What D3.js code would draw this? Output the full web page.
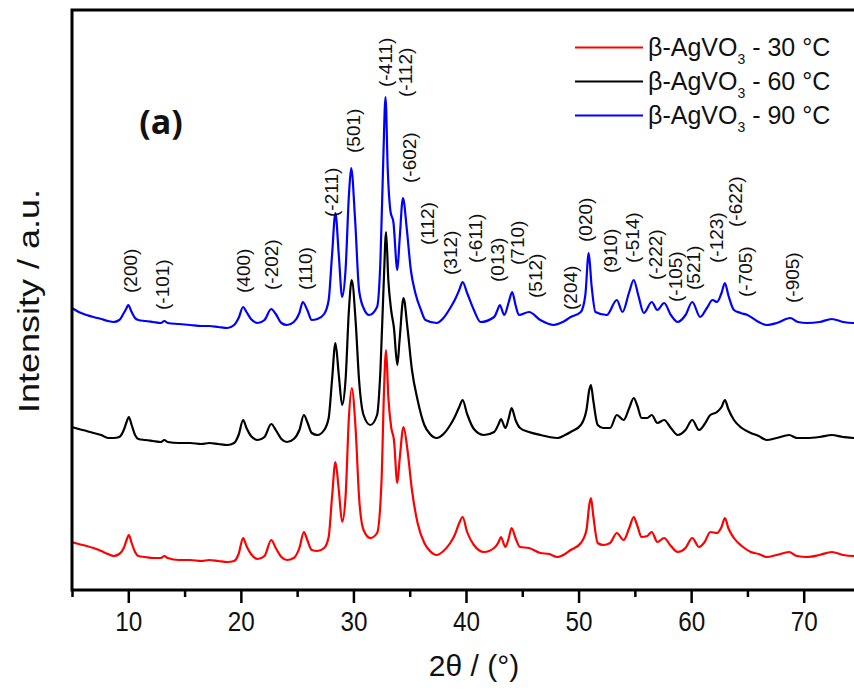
<!DOCTYPE html>
<html>
<head>
<meta charset="utf-8">
<script src="https://cdn.jsdelivr.net/npm/d3@7"></script>
<style>
  html, body { margin: 0; padding: 0; background: #fff; }
  svg { display: block; font-family: "Liberation Sans", Arial, sans-serif; }
</style>
</head>
<body>
<div id="chart"></div>
<script>
"use strict";

// XRD patterns, [2theta, intensity] (stacked as drawn).
var pattern30 = [[5.0,48],[5.6,46],[6.3,44],[6.9,42],[7.6,39],[8.2,36],[8.7,34],[9.2,36],[9.6,42],[9.85,50],[10.05,55],[10.3,47],[10.6,38],[10.9,34],[11.5,33],[12.2,32],[12.9,32],[13.2,34],[13.5,32],[14.5,30],[15.5,30],[16.5,29],[17.2,30],[18.0,29],[18.8,28],[19.4,29],[19.8,36],[20.2,52],[20.5,44],[20.9,36],[21.5,31],[22.1,34],[22.7,50],[23.1,42],[23.6,33],[24.1,30],[24.7,32],[25.2,42],[25.6,58],[25.9,50],[26.3,40],[26.8,39],[27.4,42],[27.8,53],[28.1,93],[28.4,128],[28.7,100],[29.0,68],[29.3,93],[29.6,173],[29.85,202],[30.2,160],[30.5,93],[30.9,60],[31.5,52],[32.1,57],[32.5,110],[32.7,193],[32.9,240],[33.1,193],[33.35,163],[33.6,150],[33.9,107],[34.1,130],[34.45,163],[34.8,140],[35.2,100],[35.7,67],[36.3,47],[36.8,39],[37.4,35],[38.0,39],[38.6,47],[39.0,55],[39.4,67],[39.7,73],[40.1,58],[40.7,45],[41.6,38],[42.5,42],[42.9,48],[43.1,53],[43.5,43],[43.8,52],[44.05,62],[44.4,52],[44.8,43],[45.6,42],[46.6,37],[47.4,36],[48.1,33],[48.8,36],[49.3,40],[50.2,47],[50.7,60],[50.95,85],[51.1,92],[51.3,75],[51.7,47],[52.2,45],[52.8,47],[53.4,57],[54.0,50],[54.5,62],[54.9,73],[55.2,65],[55.6,53],[56.1,54],[56.5,58],[57.0,48],[57.6,52],[58.2,44],[58.8,38],[59.5,42],[60.1,52],[60.7,43],[61.2,48],[61.7,58],[62.3,57],[62.7,63],[63.0,72],[63.3,62],[63.8,52],[64.5,44],[65.3,38],[66.0,36],[66.7,33],[67.6,35],[68.7,38],[69.4,34],[70.3,33],[71.4,35],[72.5,38],[73.5,35],[74.4,34],[75.0,34]];

var pattern60 = [[5.0,163],[5.6,161],[6.3,159],[6.9,157],[7.6,155],[8.2,152],[8.7,152],[9.2,153],[9.6,160],[9.85,168],[10.05,173],[10.3,165],[10.6,155],[10.9,151],[11.5,150],[12.2,149],[12.9,148],[13.2,150],[13.5,148],[14.5,147],[15.5,147],[16.5,146],[17.2,147],[18.0,146],[18.8,145],[19.4,147],[19.8,155],[20.2,170],[20.5,162],[20.9,154],[21.5,150],[22.1,153],[22.7,166],[23.1,160],[23.6,151],[24.1,148],[24.7,151],[25.2,160],[25.6,175],[25.9,168],[26.3,157],[26.8,155],[27.4,160],[27.8,172],[28.1,210],[28.4,247],[28.7,215],[29.0,185],[29.3,210],[29.6,280],[29.85,310],[30.2,268],[30.5,210],[30.9,175],[31.5,165],[32.1,175],[32.4,220],[32.7,310],[32.9,358],[33.1,310],[33.35,280],[33.6,262],[33.9,225],[34.1,250],[34.45,292],[34.8,262],[35.2,220],[35.7,190],[36.3,165],[36.8,156],[37.4,152],[38.0,156],[38.6,165],[39.0,173],[39.4,183],[39.7,190],[40.1,176],[40.7,161],[41.6,155],[42.5,158],[42.9,166],[43.1,171],[43.5,162],[43.8,172],[44.05,182],[44.4,170],[44.8,162],[45.6,158],[46.6,155],[47.4,153],[48.1,152],[48.8,155],[49.3,158],[50.2,165],[50.7,180],[50.95,200],[51.1,205],[51.3,190],[51.7,165],[52.2,162],[52.8,162],[53.4,175],[54.0,170],[54.5,182],[54.9,192],[55.2,185],[55.6,172],[56.1,172],[56.5,175],[57.0,167],[57.6,170],[58.2,162],[58.8,155],[59.5,160],[60.1,170],[60.7,160],[61.2,166],[61.7,175],[62.3,178],[62.7,183],[63.0,190],[63.3,181],[63.8,170],[64.5,162],[65.3,157],[66.0,154],[66.7,150],[67.6,152],[68.7,155],[69.4,152],[70.3,152],[71.4,153],[72.5,155],[73.5,153],[74.4,152],[75.0,152]];

var pattern90 = [[5.0,282],[5.6,278],[6.3,275],[6.9,273],[7.6,271],[8.2,269],[8.7,268],[9.2,270],[9.6,277],[9.85,282],[10.0,285],[10.3,278],[10.6,272],[10.9,270],[11.5,269],[12.2,268],[12.9,267],[13.2,269],[13.5,267],[14.5,266],[15.5,265],[16.5,264],[17.2,264],[18.0,263],[18.8,262],[19.4,265],[19.8,272],[20.2,283],[20.5,278],[20.9,271],[21.5,267],[22.1,270],[22.7,281],[23.1,276],[23.6,267],[24.1,265],[24.7,268],[25.2,277],[25.5,288],[25.9,280],[26.3,270],[26.8,271],[27.4,276],[27.8,290],[28.1,335],[28.4,377],[28.7,335],[29.0,293],[29.3,320],[29.6,395],[29.8,422],[30.15,370],[30.5,300],[30.9,282],[31.4,275],[32.1,283],[32.4,330],[32.65,430],[32.85,493],[33.05,420],[33.3,378],[33.55,368],[33.9,320],[34.1,350],[34.4,392],[34.75,360],[35.1,320],[35.5,297],[36.0,280],[36.4,270],[37.4,267],[38.0,272],[38.6,282],[39.0,290],[39.4,300],[39.7,308],[40.1,297],[40.7,280],[41.3,268],[42.5,273],[42.8,280],[43.0,285],[43.4,275],[43.8,288],[44.1,298],[44.4,285],[44.7,275],[45.6,278],[46.6,270],[47.8,265],[48.6,268],[49.3,273],[50.2,278],[50.6,295],[50.9,337],[51.15,305],[51.5,278],[52.5,275],[53.4,290],[53.9,278],[54.5,298],[54.9,310],[55.3,295],[55.8,277],[56.5,288],[57.0,280],[57.6,287],[58.2,275],[58.8,268],[59.5,275],[60.1,288],[60.8,273],[61.4,282],[61.9,290],[62.3,288],[62.7,297],[63.0,307],[63.3,295],[63.8,280],[64.4,277],[65.0,275],[66.0,268],[66.7,265],[67.6,267],[68.8,272],[69.5,268],[70.3,267],[71.4,268],[72.5,271],[73.5,268],[74.4,267],[75.0,267]];

var seriesTemps = ["30", "60", "90"];
var seriesColors = ["#ff0000", "#000000", "#0000ff"];

// Miller indices, their 2theta and the level where each label starts.
var hklNames = ["(200)", "(-101)", "(400)", "(-202)", "(110)", "(-211)", "(501)", "(-411)", "(-112)", "(-602)", "(112)", "(312)", "(-611)", "(013)", "(710)", "(512)", "(204)", "(020)", "(910)", "(-514)", "(-222)", "(-105)", "(521)", "(-123)", "(-622)", "(-705)", "(-905)"];
var hklTheta = [10.2, 13.0, 20.2, 22.7, 25.7, 28.0, 30.0, 32.85, 34.6, 34.95, 36.6, 38.6, 40.8, 42.8, 44.6, 46.2, 49.3, 50.6, 52.8, 54.8, 56.8, 58.6, 60.2, 62.2, 63.9, 64.8, 69.0];
var hklLevel = [297, 280, 297, 300, 300, 373, 437, 503, 493, 407, 345, 315, 327, 308, 325, 292, 280, 348, 317, 327, 310, 288, 300, 327, 363, 293, 287];

var majorTicks = [10, 20, 30, 40, 50, 60, 70];
var minorTicks = [5, 15, 25, 35, 45, 55, 65, 75];

var width = 854, height = 691;
var margin = {top: 10, left: 72, bottom: 101, right: -6};

var svg = d3.select("#chart").append("svg")
    .attr("width", width)
    .attr("height", height);

var x = d3.scaleLinear().domain([5, 75]).range([margin.left, width - margin.right]);
var y = d3.scaleLinear().domain([0, 580]).range([height - margin.bottom, margin.top]);

// Patterns.
var line = d3.line()
    .x(function (d) { return x(d[0]); })
    .y(function (d) { return y(d[1]); })
    .curve(d3.curveMonotoneX);

var patterns = [pattern30, pattern60, pattern90];
svg.append("g").selectAll("path")
    .data(patterns)
    .enter().append("path")
    .attr("d", line)
    .attr("fill", "none")
    .attr("stroke", function (d, i) { return seriesColors[i]; })
    .attr("stroke-width", 2.2)
    .attr("stroke-linejoin", "round");

// Frame.
svg.append("rect")
    .attr("x", x(5))
    .attr("y", y(580))
    .attr("width", x(75) - x(5))
    .attr("height", y(0) - y(580))
    .attr("fill", "none")
    .attr("stroke", "#000")
    .attr("stroke-width", 3);

// X axis, major and minor ticks.
var xAxis = svg.append("g")
    .attr("transform", "translate(0," + y(0) + ")")
    .call(d3.axisBottom(x).tickValues(majorTicks).tickSize(13).tickPadding(9).tickFormat(d3.format("d")));
xAxis.select(".domain").remove();
xAxis.selectAll("line").attr("stroke-width", 2.5);
xAxis.selectAll("text")
    .attr("font-family", "Liberation Sans, Arial, sans-serif")
    .attr("font-size", 27)
    .attr("transform", "scale(0.9,1)")
    .attr("fill", "#111");

var xMinor = svg.append("g")
    .attr("transform", "translate(0," + y(0) + ")")
    .call(d3.axisBottom(x).tickValues(minorTicks).tickSize(7).tickFormat(""));
xMinor.select(".domain").remove();
xMinor.selectAll("line").attr("stroke-width", 2.5);

// Axis titles.
svg.append("text")
    .attr("x", 474)
    .attr("y", 676)
    .attr("text-anchor", "middle")
    .attr("font-size", 30)
    .attr("fill", "#111")
    .text("2\u03b8 / (\u00b0)");

svg.append("text")
    .attr("transform", "translate(39,301) rotate(-90) scale(1.2,1)")
    .attr("text-anchor", "middle")
    .attr("font-size", 30)
    .attr("fill", "#111")
    .text("Intensity / a.u.");

// Panel tag.
svg.append("text")
    .attr("x", 161)
    .attr("y", 134)
    .attr("text-anchor", "middle")
    .attr("font-family", "Open Sans, sans-serif")
    .attr("font-weight", 700)
    .attr("font-size", 34)
    .attr("fill", "#111")
    .text("(a)");

// Reflection labels.
svg.append("g").selectAll("text")
    .data(hklNames)
    .enter().append("text")
    .attr("transform", function (d, i) {
        return "translate(" + x(hklTheta[i]) + "," + y(hklLevel[i]) + ") rotate(-90)";
    })
    .attr("dy", "0.35em")
    .attr("font-size", 19)
    .attr("fill", "#111")
    .text(function (d) { return d; });

// Legend.
var legend = svg.append("g").selectAll("g")
    .data(seriesTemps)
    .enter().append("g")
    .attr("transform", function (d, i) { return "translate(575," + (47.5 + i * 34) + ")"; });

legend.append("line")
    .attr("x1", 0).attr("x2", 68)
    .attr("stroke", function (d, i) { return seriesColors[i]; })
    .attr("stroke-width", 2);

var legendText = legend.append("text")
    .attr("x", 73)
    .attr("y", 8)
    .attr("font-size", 25)
    .attr("fill", "#111");
legendText.append("tspan").text("\u03b2-AgVO");
legendText.append("tspan").attr("font-size", 14).attr("dy", 8).text("3");
legendText.append("tspan").attr("dy", -8).text(function (d) { return " - " + d + " \u00b0C"; });
</script>
</body>
</html>
